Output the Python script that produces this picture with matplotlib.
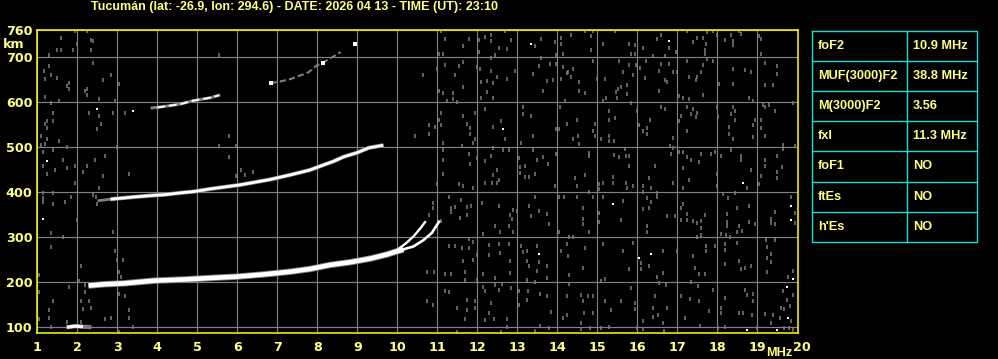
import matplotlib
matplotlib.use('Agg')
import matplotlib.pyplot as plt
from matplotlib.transforms import ScaledTranslation

# ---------------- data ----------------
title = "Tucumán (lat: -26.9, lon: 294.6) - DATE: 2026 04 13 - TIME (UT): 23:10"
freq_ticks = list(range(1, 21))
height_ticks = [100, 200, 300, 400, 500, 600, 700, 760]

table_labels = ["foF2", "MUF(3000)F2", "M(3000)F2", "fxI", "foF1", "ftEs", "h'Es"]
table_values = ["10.9 MHz", "38.8 MHz", "3.56", "11.3 MHz", "NO", "NO", "NO"]

# first hop F trace (common part)
f1_f = [2.28, 2.67, 3.17, 3.92, 4.75, 5.33, 6.0, 6.67, 7.33, 7.82, 8.32, 8.82, 9.32, 9.73, 9.98, 10.15]
f1_h = [192, 195, 197, 203, 206, 209, 212, 217, 223, 229, 238, 244, 252, 261, 268, 272]
# ordinary branch near the cusp
fo_f = [9.98, 10.24, 10.42, 10.58, 10.69]
fo_h = [270, 288, 303, 320, 333]
# extraordinary branch near the cusp
fx_f = [10.05, 10.40, 10.65, 10.86, 11.04]
fx_h = [270, 279, 293, 309, 334]
# second hop
f2_f = [2.83, 3.42, 3.83, 4.17, 4.67, 4.92, 5.33, 5.67, 6.08, 6.33, 6.83, 7.32, 7.82, 8.15, 8.40, 8.65, 8.98, 9.28, 9.65]
f2_h = [384, 389, 392, 394, 399, 401, 407, 411, 416, 420, 428, 438, 449, 460, 468, 478, 487, 498, 504]
f2_dim_f = [2.54, 2.83]
f2_dim_h = [381, 384]
# third hop
f3_f = [3.87, 4.0, 4.4, 4.6, 4.9, 5.1, 5.35, 5.54]
f3_h = [587, 588, 593, 596, 603, 606, 610, 615]
# fourth hop
f4_f = [6.83, 7.04, 7.33, 7.57, 7.78, 7.98, 8.13, 8.38, 8.58]
f4_h = [642, 645, 651, 659, 666, 681, 687, 700, 711]
f4_white = [(6.83, 642), (8.13, 687), (8.94, 730)]
# low E-like echo
e_f = [1.78, 1.95, 2.1, 2.3]
e_h = [100, 102, 101, 100]

noise_gray = [
    (1.60, 743), (1.94, 758), (2.25, 758), (1.98, 730), (2.33, 737), (2.39, 736), (1.50, 716), (1.60, 716),
    (1.89, 715), (2.35, 715), (1.30, 704), (5.54, 704), (2.39, 687), (1.30, 679), (1.17, 668), (1.33, 660),
    (1.50, 654), (1.20, 651), (2.85, 661), (2.64, 648), (1.79, 642), (1.75, 635), (3.04, 639), (2.25, 629),
    (2.19, 624), (1.79, 629), (2.25, 616), (2.54, 606), (1.20, 611), (1.54, 603), (2.94, 603), (1.35, 597),
    (2.29, 575), (2.54, 570), (2.88, 575), (3.19, 575), (1.40, 575), (1.25, 558), (1.40, 558), (1.20, 552),
    (2.60, 552), (1.25, 543), (2.50, 539), (1.10, 525), (1.25, 517), (1.54, 513), (1.10, 505), (1.20, 507),
    (1.73, 499), (3.00, 499), (1.40, 494), (1.15, 490), (5.79, 525), (5.54, 503), (5.96, 503), (2.70, 481),
    (1.64, 472), (2.45, 472), (1.15, 457), (1.75, 454), (1.94, 457), (2.25, 458), (1.45, 449), (2.14, 445),
    (1.25, 440), (2.64, 436), (3.29, 440), (5.79, 477), (6.10, 449), (6.18, 438), (6.39, 445), (5.96, 436),
    (11.08, 758), (11.18, 740), (11.79, 740), (11.65, 725), (12.03, 737), (12.18, 745), (12.33, 749), (12.33, 735),
    (12.69, 758), (12.83, 737), (13.44, 725), (13.58, 740), (12.54, 721), (12.73, 717), (11.04, 707), (11.15, 707),
    (12.03, 711), (12.44, 705), (12.34, 698), (13.58, 698), (11.63, 689), (11.19, 683), (11.53, 679), (10.98, 674),
    (11.98, 678), (12.07, 674), (12.34, 670), (12.94, 670), (13.53, 681), (13.38, 663), (10.63, 659), (11.44, 660),
    (12.50, 655), (12.73, 651), (12.09, 644), (12.23, 646), (12.38, 642), (11.63, 633), (11.04, 625), (11.15, 620),
    (11.38, 620), (12.23, 623), (12.09, 610), (12.38, 609), (13.63, 625), (11.23, 603), (11.38, 606), (11.48, 600),
    (12.19, 584), (13.15, 589), (13.13, 574), (13.33, 570), (11.09, 575), (11.63, 570), (11.94, 575), (11.04, 561),
    (12.58, 558), (10.79, 548), (10.94, 544), (11.08, 548), (11.73, 552), (11.82, 543), (12.38, 544), (10.79, 530),
    (10.44, 524), (11.82, 530), (11.94, 517), (12.69, 518), (13.38, 525), (13.08, 510), (11.13, 508), (11.89, 509),
    (11.61, 503), (12.38, 498), (12.63, 494), (12.79, 494), (13.38, 494), (11.13, 494), (11.80, 485), (12.34, 481),
    (11.13, 472), (11.82, 463), (12.19, 468), (11.98, 475), (13.05, 475), (13.19, 458), (13.07, 455), (13.48, 472),
    (13.63, 478), (11.13, 440), (12.50, 448), (12.38, 438), (13.07, 443), (13.19, 434), (13.30, 433), (13.44, 440),
    (12.54, 427),
    (13.93, 734), (14.08, 743), (14.08, 730), (14.33, 749), (14.70, 758), (14.89, 758), (14.85, 747), (14.83, 715),
    (15.14, 730), (15.45, 758), (15.79, 730), (15.93, 726), (15.83, 707), (15.93, 707), (16.14, 721), (16.58, 750),
    (16.50, 739), (16.79, 721), (16.96, 711), (16.39, 702), (16.68, 702), (17.24, 758), (17.39, 734), (17.49, 743),
    (17.64, 743), (17.75, 755), (17.89, 758), (17.99, 749), (17.71, 730), (17.68, 715), (17.68, 707), (18.18, 737),
    (18.34, 750), (18.38, 735), (18.38, 726), (18.55, 758), (18.59, 752), (19.04, 747), (19.09, 739), (19.09, 707),
    (14.14, 707), (13.96, 704), (13.81, 685), (13.97, 685), (14.14, 678), (14.27, 666), (14.39, 674), (14.35, 655),
    (14.54, 644), (14.54, 625), (14.68, 620), (14.98, 651), (15.18, 651), (13.89, 650), (13.74, 646), (14.08, 651),
    (14.23, 664), (14.89, 691), (15.54, 691), (15.64, 666), (15.88, 659), (15.79, 683), (15.96, 683), (15.46, 623),
    (15.51, 629), (15.60, 633), (15.73, 637), (15.75, 618), (15.49, 610), (15.21, 610), (15.14, 603), (14.18, 603),
    (16.06, 676), (16.18, 653), (16.21, 691), (16.54, 670), (16.58, 685), (16.79, 685), (16.89, 666), (16.98, 666),
    (16.68, 648), (16.74, 644), (16.54, 625), (17.04, 614), (17.13, 610), (17.29, 606), (17.24, 691), (17.64, 683),
    (17.75, 696), (17.89, 691), (17.60, 666), (17.29, 655), (17.46, 648), (17.49, 655), (17.64, 616), (18.04, 640),
    (18.38, 674), (18.38, 640), (18.68, 672), (18.85, 666), (18.79, 610), (18.89, 603), (19.18, 687), (19.49, 681),
    (19.49, 663), (19.18, 638), (19.39, 638), (14.06, 590), (13.97, 539), (14.04, 540), (14.23, 552), (14.48, 561),
    (14.39, 517), (14.52, 525), (14.54, 507), (14.93, 552), (14.89, 535), (14.93, 524), (15.28, 580), (15.29, 560),
    (15.43, 565), (15.29, 525), (15.42, 513), (15.28, 513), (15.10, 517), (15.83, 597), (15.98, 580), (16.03, 548),
    (16.14, 535), (16.23, 543), (16.31, 560), (16.23, 530), (16.58, 588), (16.68, 584), (16.89, 520), (17.04, 558),
    (17.08, 570), (17.24, 588), (17.35, 573), (17.39, 584), (17.46, 567), (17.49, 575), (17.24, 535), (17.99, 588),
    (18.02, 567), (18.35, 573), (18.38, 588), (18.43, 580), (18.29, 544), (18.29, 530), (18.38, 518), (18.43, 561),
    (18.89, 550), (18.89, 522), (18.93, 561), (19.08, 561), (19.08, 543), (19.18, 524), (19.14, 593), (19.18, 590),
    (19.29, 593), (19.43, 580), (19.89, 597), (13.97, 485), (13.77, 463), (14.43, 432), (14.68, 437), (14.79, 487),
    (14.79, 481), (15.42, 483), (15.54, 478), (15.68, 496), (15.71, 481), (15.79, 481), (15.79, 458), (15.39, 434),
    (16.29, 432), (16.43, 458), (16.81, 503), (16.85, 485), (16.89, 498), (17.04, 488), (17.14, 488), (17.24, 478),
    (17.14, 453), (17.29, 427), (17.35, 472), (17.54, 466), (17.58, 485), (17.85, 485), (17.93, 490), (17.99, 440),
    (18.10, 481), (18.35, 494), (18.59, 481), (18.59, 472), (18.85, 449), (19.10, 436), (19.18, 472), (19.18, 458),
    (19.49, 479), (19.49, 445), (19.49, 432), (19.62, 456), (19.64, 505), (19.64, 496), (19.95, 503),
    (1.15, 398), (1.40, 398), (1.15, 387), (1.15, 378), (1.40, 373), (1.69, 378), (1.83, 389), (1.94, 421),
    (2.54, 409), (2.40, 394), (2.46, 390), (2.50, 373), (2.00, 337), (1.35, 309), (1.65, 301), (2.90, 312),
    (1.35, 277), (2.94, 270), (3.00, 248), (3.15, 248), (2.10, 235), (3.04, 222), (3.08, 212), (1.05, 215),
    (2.04, 203), (2.19, 194), (1.79, 188), (1.05, 177), (2.19, 177), (3.04, 173), (3.19, 168), (1.40, 157),
    (2.10, 157), (2.29, 157), (2.35, 142), (2.15, 140), (1.30, 138), (3.29, 138), (1.30, 121), (1.05, 118),
    (2.70, 118), (2.85, 121), (3.29, 121), (3.40, 101), (1.35, 99), (3.04, 90), (1.75, 112), (2.10, 112),
    (10.90, 375), (10.88, 365), (10.80, 350), (11.08, 336), (10.98, 418),
    (11.53, 418), (11.64, 413), (11.89, 409), (12.19, 421), (12.36, 421), (12.48, 421), (11.28, 390), (11.59, 383),
    (11.33, 364), (11.44, 366), (11.73, 366), (11.84, 368), (11.34, 355), (11.73, 350), (11.57, 342), (12.11, 375),
    (12.53, 368), (12.88, 361), (12.82, 350), (12.86, 341), (12.98, 358), (13.30, 368), (13.44, 390), (13.53, 358),
    (13.33, 347), (12.44, 324), (12.57, 312), (12.78, 324), (12.88, 312), (12.15, 306), (11.89, 290), (11.78, 296),
    (11.30, 279), (11.44, 279), (11.61, 275), (11.78, 275), (12.30, 283), (12.53, 284), (12.78, 284), (13.08, 279),
    (13.13, 266), (13.25, 270), (13.48, 279), (12.57, 264), (12.82, 246), (12.30, 259), (11.64, 246), (11.89, 250),
    (11.98, 261), (13.25, 246), (13.30, 235), (13.55, 244), (13.50, 225), (10.73, 222), (10.92, 222), (11.19, 217),
    (11.34, 217), (11.69, 222), (11.69, 205), (11.98, 205), (12.13, 217), (12.44, 209), (12.82, 220), (13.24, 205),
    (13.44, 200), (11.19, 179), (11.30, 177), (11.73, 160), (11.94, 157), (12.13, 190), (12.19, 179), (12.44, 194),
    (12.54, 183), (12.62, 195), (12.83, 186), (13.05, 180), (13.27, 180), (13.23, 160), (13.57, 173), (10.73, 158),
    (10.88, 148), (11.48, 143), (11.73, 138), (11.94, 143), (12.34, 153), (12.30, 132), (13.05, 149), (11.69, 118),
    (12.19, 116), (12.42, 118), (12.73, 118), (12.73, 99), (12.58, 90), (11.48, 90), (13.45, 91), (13.56, 103),
    (13.93, 413), (14.48, 413), (15.04, 418), (15.04, 407), (15.14, 421), (15.39, 420), (15.71, 421), (15.74, 409),
    (15.88, 413), (16.14, 413), (16.14, 401), (16.33, 409), (16.89, 421), (17.14, 410), (17.98, 413), (18.74, 409),
    (19.04, 418), (14.04, 390), (14.16, 389), (14.48, 389), (14.79, 400), (14.89, 390), (15.14, 390), (15.64, 381),
    (16.23, 387), (16.33, 378), (16.49, 390), (16.50, 398), (16.14, 363), (16.29, 364), (16.74, 347), (16.93, 347),
    (17.13, 373), (17.09, 364), (17.24, 351), (17.10, 337), (17.23, 337), (17.39, 336), (17.49, 331), (17.58, 335),
    (17.68, 350), (18.14, 396), (18.26, 387), (18.45, 398), (18.48, 364), (18.24, 351), (18.79, 368), (18.24, 333),
    (18.23, 324), (18.54, 324), (18.62, 314), (18.49, 311), (18.79, 333), (18.93, 329), (19.43, 355), (19.34, 341),
    (19.43, 329), (19.34, 331), (19.83, 388), (19.93, 353), (19.93, 331), (13.73, 351), (13.79, 329), (14.04, 311),
    (14.29, 301), (14.39, 301), (14.64, 364), (14.64, 340), (14.64, 329), (14.79, 311), (15.04, 353), (15.04, 333),
    (15.60, 337), (16.23, 324), (16.23, 311), (17.60, 320), (17.58, 305), (17.49, 301), (18.08, 307), (18.21, 305),
    (18.31, 301), (14.23, 284), (14.08, 269), (14.26, 257), (14.68, 275), (15.13, 284), (15.64, 269), (15.89, 286),
    (16.09, 242), (16.09, 229), (16.29, 236), (16.64, 268), (16.63, 220), (16.48, 212), (16.98, 269), (17.39, 257),
    (17.43, 232), (17.55, 217), (17.68, 217), (17.71, 279), (17.71, 269), (17.93, 279), (18.18, 284), (18.18, 272),
    (18.18, 240), (18.48, 286), (18.54, 247), (18.59, 229), (18.69, 231), (18.84, 235), (19.21, 294), (19.24, 277),
    (19.24, 253), (19.24, 223), (19.34, 244), (19.34, 262), (19.43, 294), (19.89, 225), (19.77, 212), (13.73, 236),
    (13.74, 209), (14.29, 216), (14.64, 231), (15.20, 207), (15.80, 229), (15.10, 203), (13.74, 169), (13.83, 134),
    (14.14, 119), (14.24, 168), (14.24, 127), (14.29, 195), (14.60, 171), (14.64, 158), (14.77, 168), (14.89, 168),
    (14.89, 131), (14.67, 131), (13.79, 97), (14.58, 108), (14.81, 97), (15.08, 97), (15.18, 158), (15.34, 138),
    (15.58, 158), (15.84, 186), (15.93, 153), (15.93, 140), (16.00, 97), (16.14, 114), (16.43, 168), (16.39, 142),
    (16.39, 123), (16.52, 127), (16.54, 197), (16.72, 194), (16.74, 142), (16.64, 108), (16.66, 91), (17.08, 168),
    (17.18, 119), (17.31, 163), (17.33, 201), (17.52, 192), (17.54, 158), (17.56, 103), (17.79, 136), (17.89, 183),
    (18.18, 164), (18.10, 143), (18.08, 131), (18.54, 131), (18.64, 131), (18.68, 183), (18.74, 171), (18.89, 158),
    (18.89, 173), (18.87, 127), (18.98, 97), (19.18, 128), (19.34, 108), (19.39, 127), (19.58, 143), (19.56, 119),
    (19.64, 179), (19.66, 139), (19.73, 160), (19.81, 147), (19.84, 113), (19.89, 171), (19.66, 97), (19.78, 97),
    (19.89, 93), (16.14, 96), (15.29, 99), (14.58, 96), (18.02, 97), (18.18, 99),
]
noise_white = [
    (2.50, 584), (3.40, 580), (1.25, 470), (13.33, 730), (12.63, 539), (16.79, 735), (1.15, 341), (13.53, 262),
    (18.64, 421), (15.39, 373), (19.83, 368), (19.83, 337), (19.89, 207), (18.74, 93), (19.49, 93), (19.76, 120),
    (19.73, 190), (16.33, 262), (16.04, 253),
]

# ---------------- styling ----------------
W, H = 998, 359
BG = 'black'
GRID = '#808080'
YEL = '#ffff00'
TXT = '#ffff80'
CYAN = '#20d8d8'
TFONT = ['Liberation Sans', 'DejaVu Sans']

fig = plt.figure(figsize=(W / 100, H / 100), dpi=100, facecolor=BG)
ax = fig.add_axes([36.5 / W, 1 - 333 / H, (797.5 - 36.5) / W, (333 - 30) / H])
ax.set_facecolor(BG)
ax.set_xlim(0.98, 20.0)
ax.set_ylim(86.7, 760)
ax.set_xticks(freq_ticks)
ax.set_yticks(height_ticks)
ax.set_xticklabels([str(v) for v in freq_ticks], fontweight='bold', fontsize=9.2, color=TXT)
ax.set_yticklabels([str(v) for v in height_ticks], fontweight='bold', fontsize=9.2, color=TXT)
ax.tick_params(axis='both', length=0)
ax.tick_params(axis='x', pad=6)
ax.tick_params(axis='y', pad=3)
# last frequency label sits slightly to the right, as in the reference
last = ax.get_xticklabels()[-1]
last.set_transform(last.get_transform() + ScaledTranslation(4 / 100, 0, fig.dpi_scale_trans))
ax.grid(True, color=GRID, lw=0.85, zorder=0)
ax.set_axisbelow(True)
for s in ax.spines.values():
    s.set_color(YEL)
    s.set_linewidth(1.1)
    s.set_zorder(10)

# noise
gx, gy = zip(*noise_gray)
ax.plot(gx, gy, ls='none', marker='|', ms=2.7, mew=1.1, color=GRID, zorder=2)
wx, wy = zip(*noise_white)
ax.plot(wx, wy, ls='none', marker='s', ms=1.6, mew=0, color='white', zorder=3)

# traces
ax.plot(f1_f, f1_h, color=GRID, lw=4.6, solid_capstyle='butt', zorder=3)
ax.plot(f1_f, f1_h, color='white', lw=3.3, solid_capstyle='butt', zorder=4)
ax.plot(fo_f, fo_h, color='white', lw=1.7, zorder=4)
ax.plot(fx_f, fx_h, color='white', lw=1.9, zorder=4)
ax.plot(f2_dim_f, f2_dim_h, color=GRID, lw=2.0, zorder=3)
ax.plot(f2_f, f2_h, color=GRID, lw=3.0, solid_capstyle='butt', zorder=3)
ax.plot(f2_f, f2_h, color='white', lw=2.0, solid_capstyle='butt', zorder=4)
ax.plot(f3_f, f3_h, color=GRID, lw=2.2, zorder=3)
ax.plot(f3_f[1:], f3_h[1:], color='white', lw=1.4, ls=(0, (4, 2)), zorder=4)
ax.plot(f4_f, f4_h, color=GRID, lw=1.5, ls=(0, (3, 1.5)), zorder=3)
w4x, w4y = zip(*f4_white)
ax.plot(w4x, w4y, ls='none', marker='s', ms=2.2, mew=0, color='white', zorder=4)
ax.plot(e_f, e_h, color=GRID, lw=3.0, zorder=3)
ax.plot(e_f[:3], e_h[:3], color='white', lw=2.3, zorder=4)

# overlay for texts and table (pixel coordinates)
ov = fig.add_axes([0, 0, 1, 1], facecolor='none')
ov.set_xlim(0, W)
ov.set_ylim(H, 0)
ov.axis('off')

ov.text(91, 7, title, color=TXT, fontsize=9.0, fontweight='bold', family=TFONT, va='center', ha='left')
ov.text(13.5, 45, 'km', color=TXT, fontsize=9.2, fontweight='bold', ha='center', va='center')
ov.text(779, 352.5, 'MHz', color=TXT, fontsize=9.2, fontweight='bold', family=TFONT, ha='center', va='center')

tx0, tx1, txm = 812.5, 977, 907.5
ty0, ty1 = 30.5, 242
n = len(table_labels)
rh = (ty1 - ty0) / n
ov.plot([tx0, tx1, tx1, tx0, tx0], [ty0, ty0, ty1, ty1, ty0], color=CYAN, lw=1.0)
ov.plot([txm, txm], [ty0, ty1], color=CYAN, lw=1.0)
for i in range(1, n):
    ov.plot([tx0, tx1], [ty0 + i * rh, ty0 + i * rh], color=CYAN, lw=1.0)
for i, (lab, val) in enumerate(zip(table_labels, table_values)):
    yc = ty0 + (i + 0.5) * rh
    ov.text(818, yc, lab, color=TXT, fontsize=9.2, fontweight='bold', family=TFONT, va='center', ha='left')
    ov.text(913, yc, val, color=TXT, fontsize=9.2, fontweight='bold', family=TFONT, va='center', ha='left')

fig.savefig('out.png', dpi=100, facecolor=BG)
